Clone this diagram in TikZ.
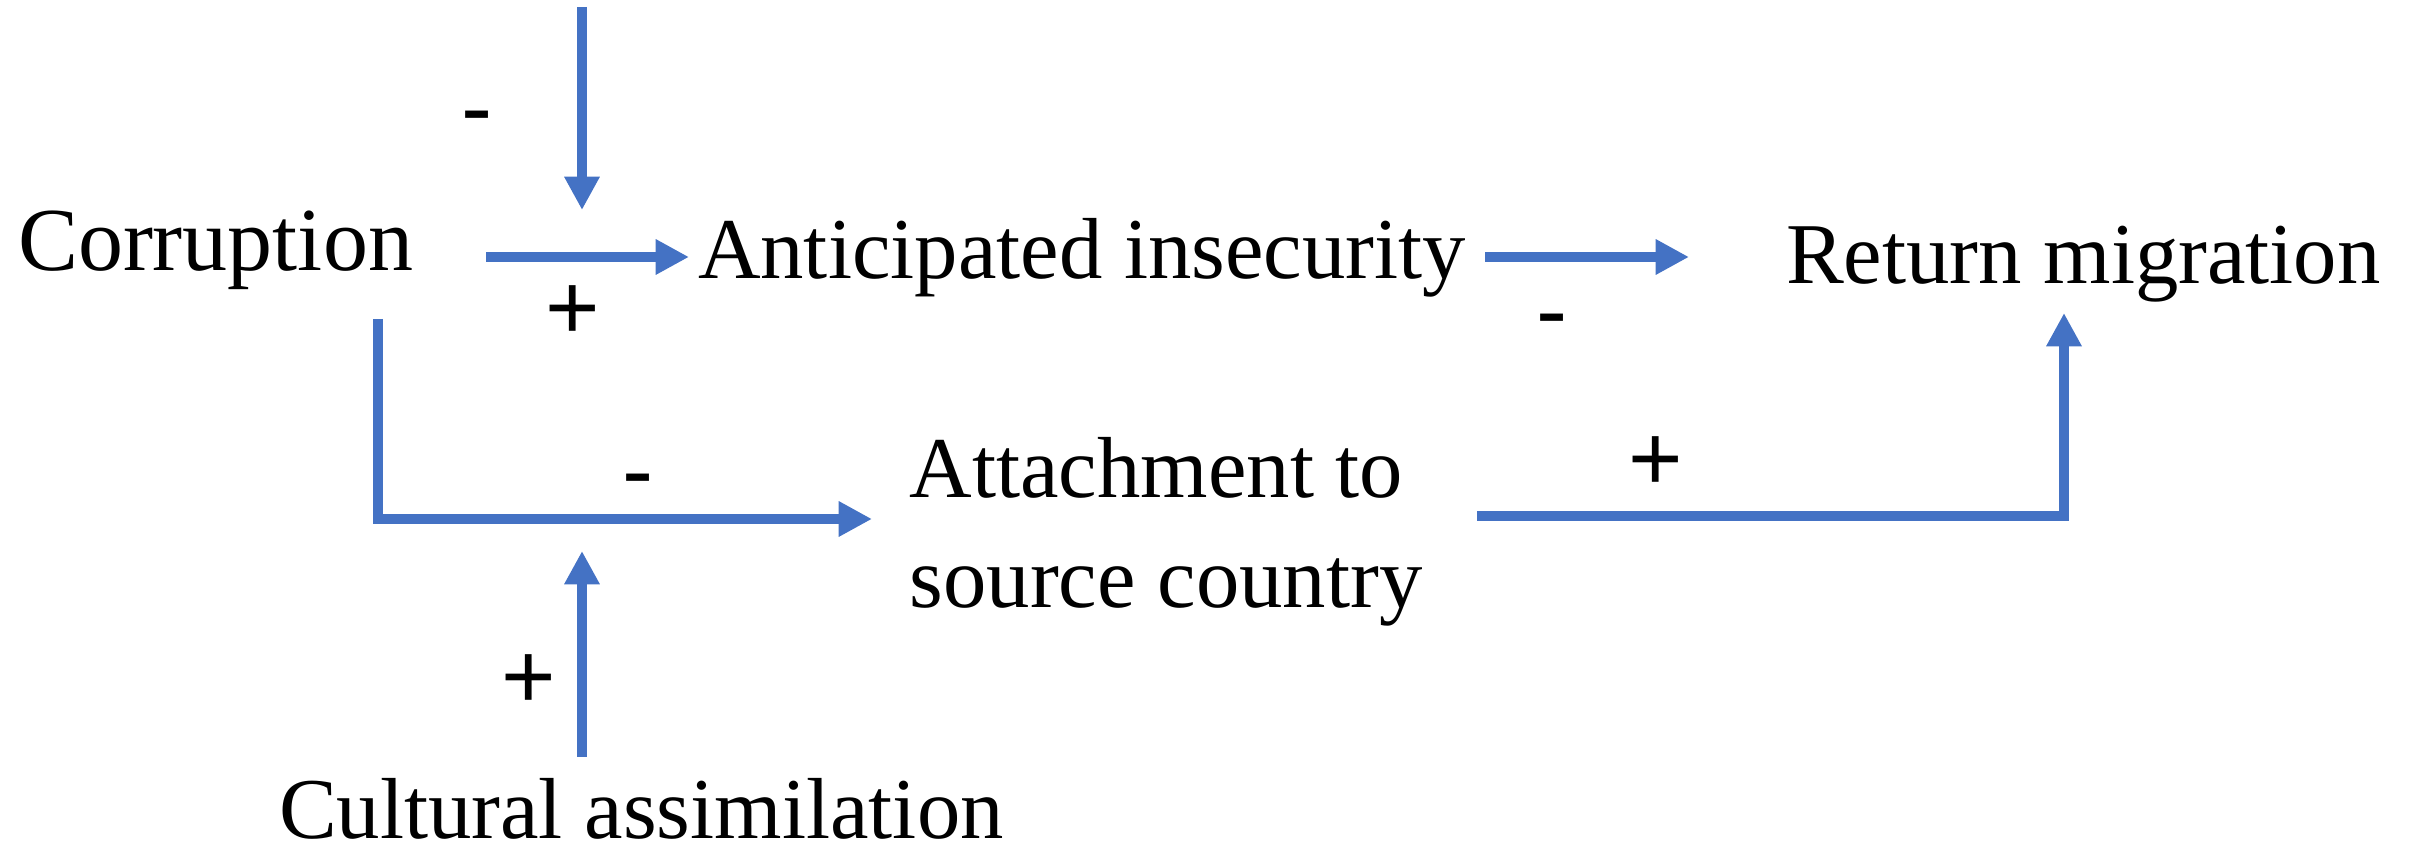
\documentclass[tikz,border=0pt]{standalone}
\usepackage{fontspec}
\setmainfont{Liberation Serif}
\newfontfamily\signfont{Liberation Sans}
\usetikzlibrary{arrows.meta}
\definecolor{linkblue}{HTML}{4472C4}
\tikzset{
  lbl/.style={inner sep=0pt, outer sep=0pt, font=\fontsize{26}{33}\selectfont},
  sgn/.style={inner sep=0pt, outer sep=0pt, anchor=base, font=\signfont\fontsize{28}{28}\selectfont},
  link/.style={draw=linkblue, line width=3pt, line join=miter},
  arr/.style={link, -{Triangle[length=10pt,width=10pt]}}
}
\begin{document}
\begin{tikzpicture}[x=0.3pt,y=-0.3pt]
\useasboundingbox (0,0) rectangle (2417,856);
% variables
\node[lbl, anchor=base west] (corr) at (18,271) {\fontsize{27}{33}\selectfont Corruption};
\node[lbl, anchor=base west] (ai) at (698,279) {Anticipated insecurity};
\node[lbl, anchor=base west] (rm) at (1786,284) {Return migration};
\node[lbl, align=left] (att) at (1166,532) {Attachment to\\source country};
\node[lbl, anchor=base west] (cult) at (279,838) {Cultural assimilation};
% connector end points
\coordinate (modtop) at (582,7);
\coordinate (modtip) at (582,210);
\coordinate (c1s) at (486,257);
\coordinate (c1e) at (689,257);
\coordinate (c2s) at (1485,257);
\coordinate (c2e) at (1689,257);
\coordinate (elbtop) at (378,319);
\coordinate (elbcorner) at (378,519);
\coordinate (elbtip) at (872,519);
\coordinate (cultbot) at (582,757);
\coordinate (culttip) at (582,551);
\coordinate (bls) at (1477,516);
\coordinate (blcorner) at (2064,516);
\coordinate (bltip) at (2064,313);
% connectors
\draw[arr] (modtop) -- (modtip);
\draw[arr] (c1s) -- (c1e);
\draw[arr] (c2s) -- (c2e);
\draw[arr] (elbtop) -- (elbcorner) -- (elbtip);
\draw[arr] (cultbot) -- (culttip);
\draw[arr] (bls) -- (blcorner) -- (bltip);
% signs
\node[sgn] (s1) at (477,140) {-};
\node[sgn] (s2) at (573,340) {+};
\node[sgn] (s3) at (1552,343) {-};
\node[sgn] (s4) at (1656,491) {+};
\node[sgn] (s5) at (638,503) {-};
\node[sgn] (s6) at (529,709) {+};
\end{tikzpicture}
\end{document}
